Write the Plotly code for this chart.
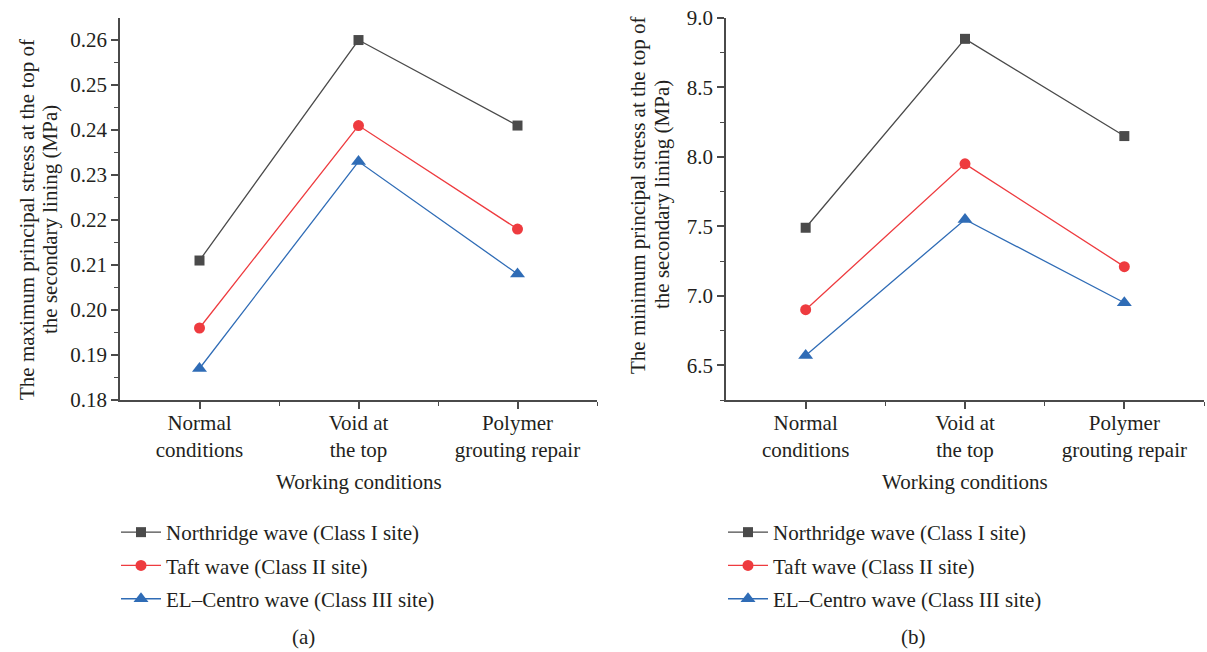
import plotly.graph_objects as go

# Working conditions (x categories)
conditions = ["Normal<br>conditions", "Void at<br>the top", "Polymer<br>grouting repair"]
x_pos = [0, 1, 2]

series_names = [
    "Northridge wave (Class I site)",
    "Taft wave (Class II site)",
    "EL\u2013Centro wave (Class III site)",
]

# (a) maximum principal stress, MPa
max_northridge = [0.211, 0.260, 0.241]
max_taft = [0.196, 0.241, 0.218]
max_elcentro = [0.187, 0.233, 0.208]

# (b) minimum principal stress, MPa
min_northridge = [7.49, 8.85, 8.15]
min_taft = [6.90, 7.95, 7.21]
min_elcentro = [6.57, 7.55, 6.95]

colors = ["#4a4a4a", "#ee3b3f", "#2f6cb6"]
symbols = ["square", "circle", "triangle-up"]
msizes = [10, 11, 13]

FONT = "Liberation Serif"
FS = 21
W, H = 1207, 652
AX = "#4a4a4a"
TXT = "#231f20"


def px_x(p):
    return p / W


def px_y(p):
    return 1 - p / H


fig = go.Figure()

panels = [
    ([max_northridge, max_taft, max_elcentro], "x", "y", "legend"),
    ([min_northridge, min_taft, min_elcentro], "x2", "y2", "legend2"),
]
for vals, xa, ya, lg in panels:
    for i, v in enumerate(vals):
        fig.add_trace(go.Scatter(
            x=x_pos, y=v, xaxis=xa, yaxis=ya,
            mode="lines+markers", name=series_names[i],
            legend=lg, legendgroup=f"{lg}_{i}",
            line=dict(color=colors[i], width=1.3),
            marker=dict(symbol=symbols[i], size=msizes[i], color=colors[i]),
        ))

y_top, y_bot = px_y(18), px_y(400)

xcommon = dict(
    range=[-0.5, 2.5], tickmode="array", tickvals=x_pos, ticktext=conditions,
    showline=True, linecolor=AX, linewidth=1.5, ticks="outside", ticklen=7,
    tickwidth=1.5, tickcolor=AX, showgrid=False, zeroline=False,
    tickfont=dict(family=FONT, size=FS, color=TXT), automargin=False,
    ticklabelstandoff=-4,
    minor=dict(tickmode="array", tickvals=[0.5, 1.5, 2.5], ticklen=4,
               tickwidth=1.3, tickcolor=AX, ticks="outside", showgrid=False),
    fixedrange=True,
)
ycommon = dict(
    showline=True, linecolor=AX, linewidth=1.5, ticks="outside", ticklen=7,
    tickwidth=1.5, tickcolor=AX, showgrid=False, zeroline=False,
    tickfont=dict(family=FONT, size=FS, color=TXT), automargin=False,
    fixedrange=True,
)

legend_common = dict(
    xanchor="left", yanchor="top", bgcolor="rgba(0,0,0,0)",
    tracegroupgap=3, itemwidth=40,
    font=dict(family=FONT, size=FS, color=TXT),
)

fig.update_layout(
    width=W, height=H, margin=dict(l=0, r=0, t=0, b=0, autoexpand=False),
    paper_bgcolor="white", plot_bgcolor="white",
    font=dict(family=FONT, size=FS, color=TXT),
    xaxis=dict(domain=[px_x(120), px_x(597)], anchor="y", **xcommon),
    yaxis=dict(domain=[y_bot, y_top], anchor="x", range=[0.18, 0.2649],
               tickmode="linear", tick0=0.18, dtick=0.01, tickformat=".2f",
               minor=dict(dtick=0.005, ticklen=4, tickwidth=1.3, tickcolor=AX,
                          ticks="outside"),
               **ycommon),
    xaxis2=dict(domain=[px_x(726), px_x(1204)], anchor="y2", **xcommon),
    yaxis2=dict(domain=[y_bot, y_top], anchor="x2", range=[6.25, 9.0],
                tickmode="array", tickvals=[6.5, 7.0, 7.5, 8.0, 8.5, 9.0],
                tickformat=".1f",
                minor=dict(tickmode="array",
                           tickvals=[6.25, 6.75, 7.25, 7.75, 8.25, 8.75],
                           ticklen=4, tickwidth=1.3, tickcolor=AX,
                           ticks="outside"),
                **ycommon),
    legend=dict(x=px_x(116), y=px_y(512), **legend_common),
    legend2=dict(x=px_x(723), y=px_y(512), **legend_common),
    showlegend=True,
)

annotations = [
    dict(text="Working conditions", x=px_x(359), y=px_y(482)),
    dict(text="Working conditions", x=px_x(965), y=px_y(482)),
    dict(text="The maximum principal stress at the top of",
         x=px_x(27), y=px_y(220), textangle=-90),
    dict(text="the secondary lining (MPa)",
         x=px_x(50), y=px_y(220), textangle=-90),
    dict(text="The minimum principal stress at the top of",
         x=px_x(638), y=px_y(195), textangle=-90),
    dict(text="the secondary lining (MPa)",
         x=px_x(662), y=px_y(195), textangle=-90),
    dict(text="(a)", x=px_x(303), y=px_y(637)),
    dict(text="(b)", x=px_x(913), y=px_y(637)),
]
for a in annotations:
    fig.add_annotation(xref="paper", yref="paper", showarrow=False,
                       xanchor="center", yanchor="middle",
                       font=dict(family=FONT, size=FS, color=TXT), **a)

fig.write_html("out.html")
